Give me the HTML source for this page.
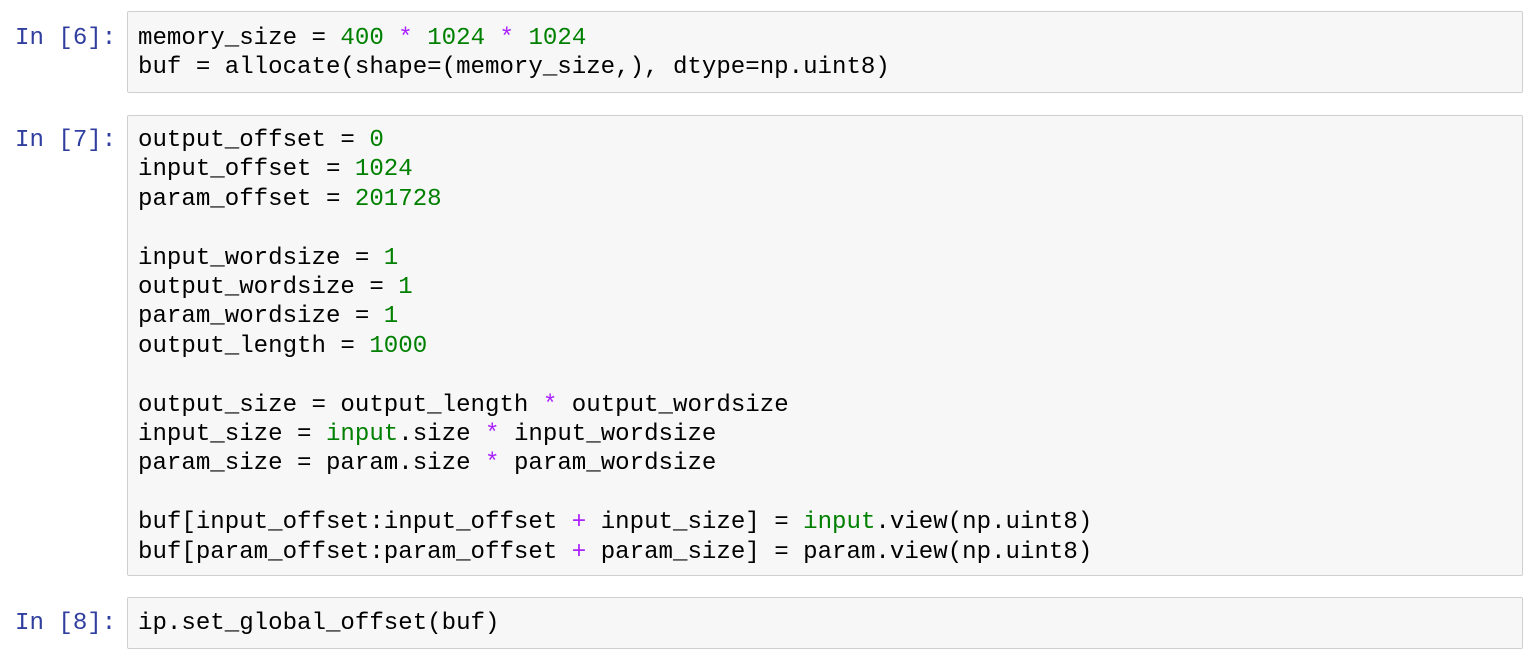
<!DOCTYPE html>
<html><head><meta charset="utf-8"><style>
body{margin:0;width:1536px;height:659px;background:#fff;position:relative;overflow:hidden;font-family:"Liberation Mono",monospace;font-size:24.1px;}
.cell{position:absolute;left:127px;width:1394px;background:#f7f7f7;border:1px solid #cfcfcf;border-radius:2px;}
.p{position:absolute;left:15px;color:#303f9f;line-height:29.4px;white-space:pre;}
.c{position:absolute;left:138px;line-height:29.4px;white-space:pre;color:#000;}
.n{color:#008000}.o{color:#aa22ff}.b{color:#008000}
</style></head><body>
<div class="cell" style="top:11px;height:80px"></div>
<div class="cell" style="top:115px;height:459px"></div>
<div class="cell" style="top:597px;height:50px"></div>
<div class="p" style="top:24px">In [6]:</div>
<div class="c" style="top:24px">memory_size = <span class="n">400</span> <span class="o">*</span> <span class="n">1024</span> <span class="o">*</span> <span class="n">1024</span>
buf = allocate(shape=(memory_size,), dtype=np.uint8)</div>
<div class="p" style="top:126px">In [7]:</div>
<div class="c" style="top:126px">output_offset = <span class="n">0</span>
input_offset = <span class="n">1024</span>
param_offset = <span class="n">201728</span>

input_wordsize = <span class="n">1</span>
output_wordsize = <span class="n">1</span>
param_wordsize = <span class="n">1</span>
output_length = <span class="n">1000</span>

output_size = output_length <span class="o">*</span> output_wordsize
input_size = <span class="b">input</span>.size <span class="o">*</span> input_wordsize
param_size = param.size <span class="o">*</span> param_wordsize

buf[input_offset:input_offset <span class="o">+</span> input_size] = <span class="b">input</span>.view(np.uint8)
buf[param_offset:param_offset <span class="o">+</span> param_size] = param.view(np.uint8)</div>
<div class="p" style="top:609px">In [8]:</div>
<div class="c" style="top:609px">ip.set_global_offset(buf)</div>
</body></html>
